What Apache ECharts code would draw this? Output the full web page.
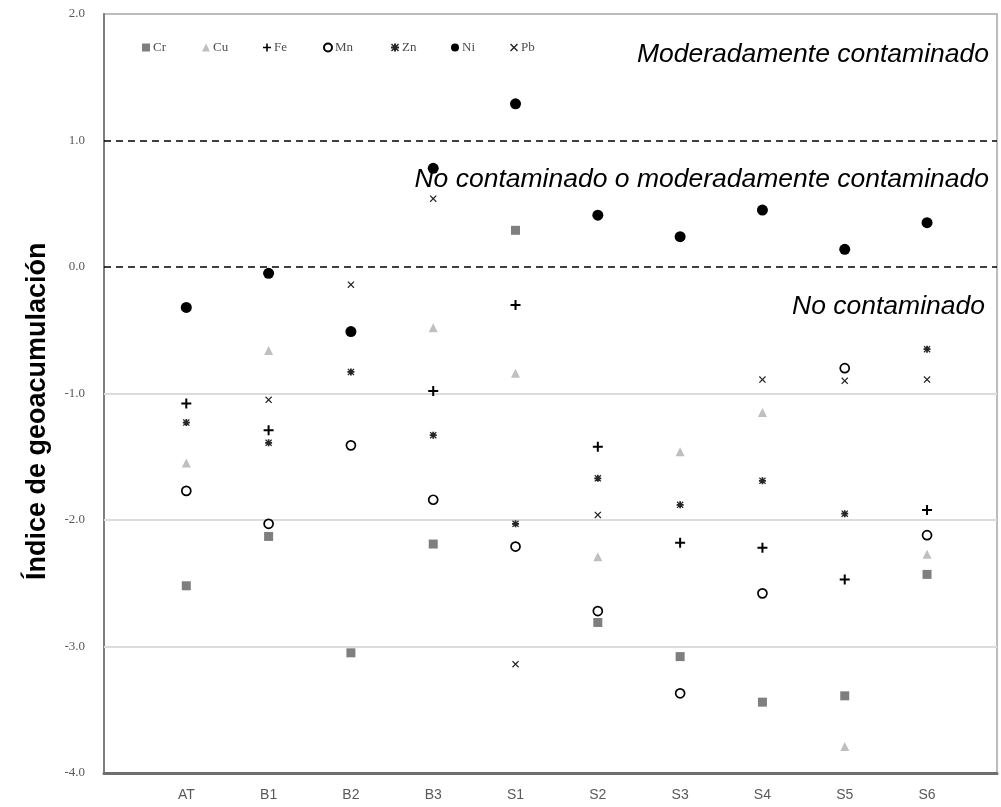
<!DOCTYPE html>
<html>
<head>
<meta charset="utf-8">
<script src="https://cdn.jsdelivr.net/npm/echarts@6/dist/echarts.min.js"></script>
<style>
  html, body { margin: 0; padding: 0; background: #ffffff; }
  #chart { width: 1001px; height: 807px; }
</style>
</head>
<body>
<div id="chart"></div>
<script>
// Sampling sites along the x axis
const sites = ['AT', 'B1', 'B2', 'B3', 'S1', 'S2', 'S3', 'S4', 'S5', 'S6'];

// Geoaccumulation index (Igeo) per element and site; null = no value plotted
const cr = [-2.52, -2.13, -3.05, -2.19,  0.29, -2.81, -3.08, -3.44, -3.39, -2.43];
const cu = [-1.55, -0.66,  null, -0.48, -0.84, -2.29, -1.46, -1.15, -3.79, -2.27];
const fe = [-1.08, -1.29,  null, -0.98, -0.30, -1.42, -2.18, -2.22, -2.47, -1.92];
const mn = [-1.77, -2.03, -1.41, -1.84, -2.21, -2.72, -3.37, -2.58, -0.80, -2.12];
const zn = [-1.23, -1.39, -0.83, -1.33, -2.03, -1.67, -1.88, -1.69, -1.95, -0.65];
const ni = [-0.32, -0.05, -0.51,  0.78,  1.29,  0.41,  0.24,  0.45,  0.14,  0.35];
const pb = [ null, -1.05, -0.14,  0.54, -3.14, -1.96,  null, -0.89, -0.90, -0.89];

// Y axis ticks
const yTicks = [-4, -3, -2, -1, 0, 1, 2];

// Light grid levels and dashed class boundaries
const gridLevels = [-1, -2, -3];
const thresholds = [1, 0];
const classLabels = [
  { text: 'Moderadamente contaminado', y: 1.68 },
  { text: 'No contaminado o moderadamente contaminado', y: 0.69 },
  { text: 'No contaminado', y: -0.31 }
];
const yTitle = 'Índice de geoacumulación';

// Marker shapes
const PLUS  = 'path://M4,0h2v4h4v2h-4v4h-2v-4h-4v-2h4z';
const CROSS = 'path://M1,0L4,3L7,0L8,1L5,4L8,7L7,8L4,5L1,8L0,7L3,4L0,1z';
const STAR  = 'path://M3,0h2v3h3v2h-3v3h-2v-3h-3v-2h3z M1,0L4,3L7,0L8,1L5,4L8,7L7,8L4,5L1,8L0,7L3,4L0,1z';

function pts(arr) {
  return arr.map((v, i) => [i + 1, v]).filter(p => p[1] !== null);
}

const seriesDefs = [
  { name: 'Cr', data: cr, symbol: 'rect',     size: 9,  style: { color: '#7f7f7f' } },
  { name: 'Cu', data: cu, symbol: 'triangle', size: 9,  style: { color: '#bfbfbf' } },
  { name: 'Fe', data: fe, symbol: PLUS,       size: 10, style: { color: '#000000' } },
  { name: 'Mn', data: mn, symbol: 'circle',   size: 9,  style: { color: '#ffffff', borderColor: '#000000', borderWidth: 1.7 } },
  { name: 'Zn', data: zn, symbol: STAR,       size: 7,  style: { color: '#262626' } },
  { name: 'Ni', data: ni, symbol: 'circle',   size: 11, style: { color: '#000000' } },
  { name: 'Pb', data: pb, symbol: CROSS,      size: 7,  style: { color: '#262626' } }
];

// One legend block per element so the entries sit at their own spots
const legendLeft = [137, 197, 258, 318, 386, 446, 505];

const series = seriesDefs.map((d, k) => ({
  name: d.name,
  type: 'scatter',
  data: pts(d.data),
  symbol: d.symbol,
  symbolSize: d.size,
  symbolKeepAspect: true,
  itemStyle: Object.assign({ opacity: 1 }, d.style),
  emphasis: { disabled: true },
  z: 3 + k
}));

// Reference levels drawn behind the markers
series[0].markLine = {
  silent: true,
  symbol: 'none',
  label: { show: false },
  z: 1,
  data: gridLevels.map(t => ({ yAxis: t, lineStyle: { color: '#dcdcdc', width: 2, type: 'solid' } }))
    .concat(thresholds.map(t => ({ yAxis: t, lineStyle: { color: '#000000', width: 1.6, type: [7, 5] } })))
};

const chart = echarts.init(document.getElementById('chart'), null, { renderer: 'canvas' });

const option = {
  animation: false,
  backgroundColor: '#ffffff',
  grid: {
    left: 104, right: 4, top: 14, bottom: 34,
    show: true, borderColor: '#a6a6a6', borderWidth: 1.5, backgroundColor: 'transparent'
  },
  legend: seriesDefs.map((d, k) => ({
    data: [d.name],
    left: legendLeft[k],
    top: 36,
    itemWidth: 8,
    itemHeight: 8,
    itemGap: 0,
    selectedMode: false,
    textStyle: { fontFamily: 'Liberation Serif', fontSize: 13, color: '#4d4d4d', padding: [0, 0, 0, -2] }
  })),
  xAxis: {
    type: 'value',
    min: 0,
    max: 10.85,
    axisLine: { show: true, onZero: false, lineStyle: { color: '#6e6e6e', width: 3 } },
    axisTick: { show: false },
    splitLine: { show: false },
    axisLabel: {
      customValues: sites.map((s, i) => i + 1),
      formatter: v => sites[Math.round(v) - 1] || '',
      fontFamily: 'Liberation Sans',
      fontSize: 14,
      color: '#595959',
      margin: 15
    }
  },
  yAxis: {
    type: 'value',
    min: yTicks[0],
    max: yTicks[yTicks.length - 1],
    interval: 1,
    axisLine: { show: true, onZero: false, lineStyle: { color: '#7f7f7f', width: 2 } },
    axisTick: { show: false },
    splitLine: { show: false },
    axisLabel: {
      formatter: v => v.toFixed(1),
      fontFamily: 'Liberation Serif',
      fontSize: 13,
      color: '#595959',
      margin: 19
    }
  },
  series: series
};

chart.setOption(option);

// Class labels placed at their index level, right-aligned inside the plot
const rightX = chart.convertToPixel({ xAxisIndex: 0 }, 10.85) - 8;
const labelGraphics = classLabels.map((c, i) => ({
  type: 'text',
  silent: true,
  z: 20,
  x: i === 2 ? rightX - 4 : rightX,
  y: chart.convertToPixel({ yAxisIndex: 0 }, c.y),
  style: {
    text: c.text,
    fill: '#000000',
    font: 'italic 26.5px "Liberation Sans"',
    textAlign: 'right',
    textVerticalAlign: 'middle'
  }
}));

// Rotated y-axis title
labelGraphics.push({
  type: 'text',
  silent: true,
  x: 38,
  y: chart.convertToPixel({ yAxisIndex: 0 }, -1.14),
  rotation: Math.PI / 2,
  style: {
    text: yTitle,
    fill: '#000000',
    font: 'bold 27px "Liberation Sans"',
    textAlign: 'center',
    textVerticalAlign: 'middle'
  }
});

chart.setOption({ graphic: labelGraphics });
</script>
</body>
</html>
